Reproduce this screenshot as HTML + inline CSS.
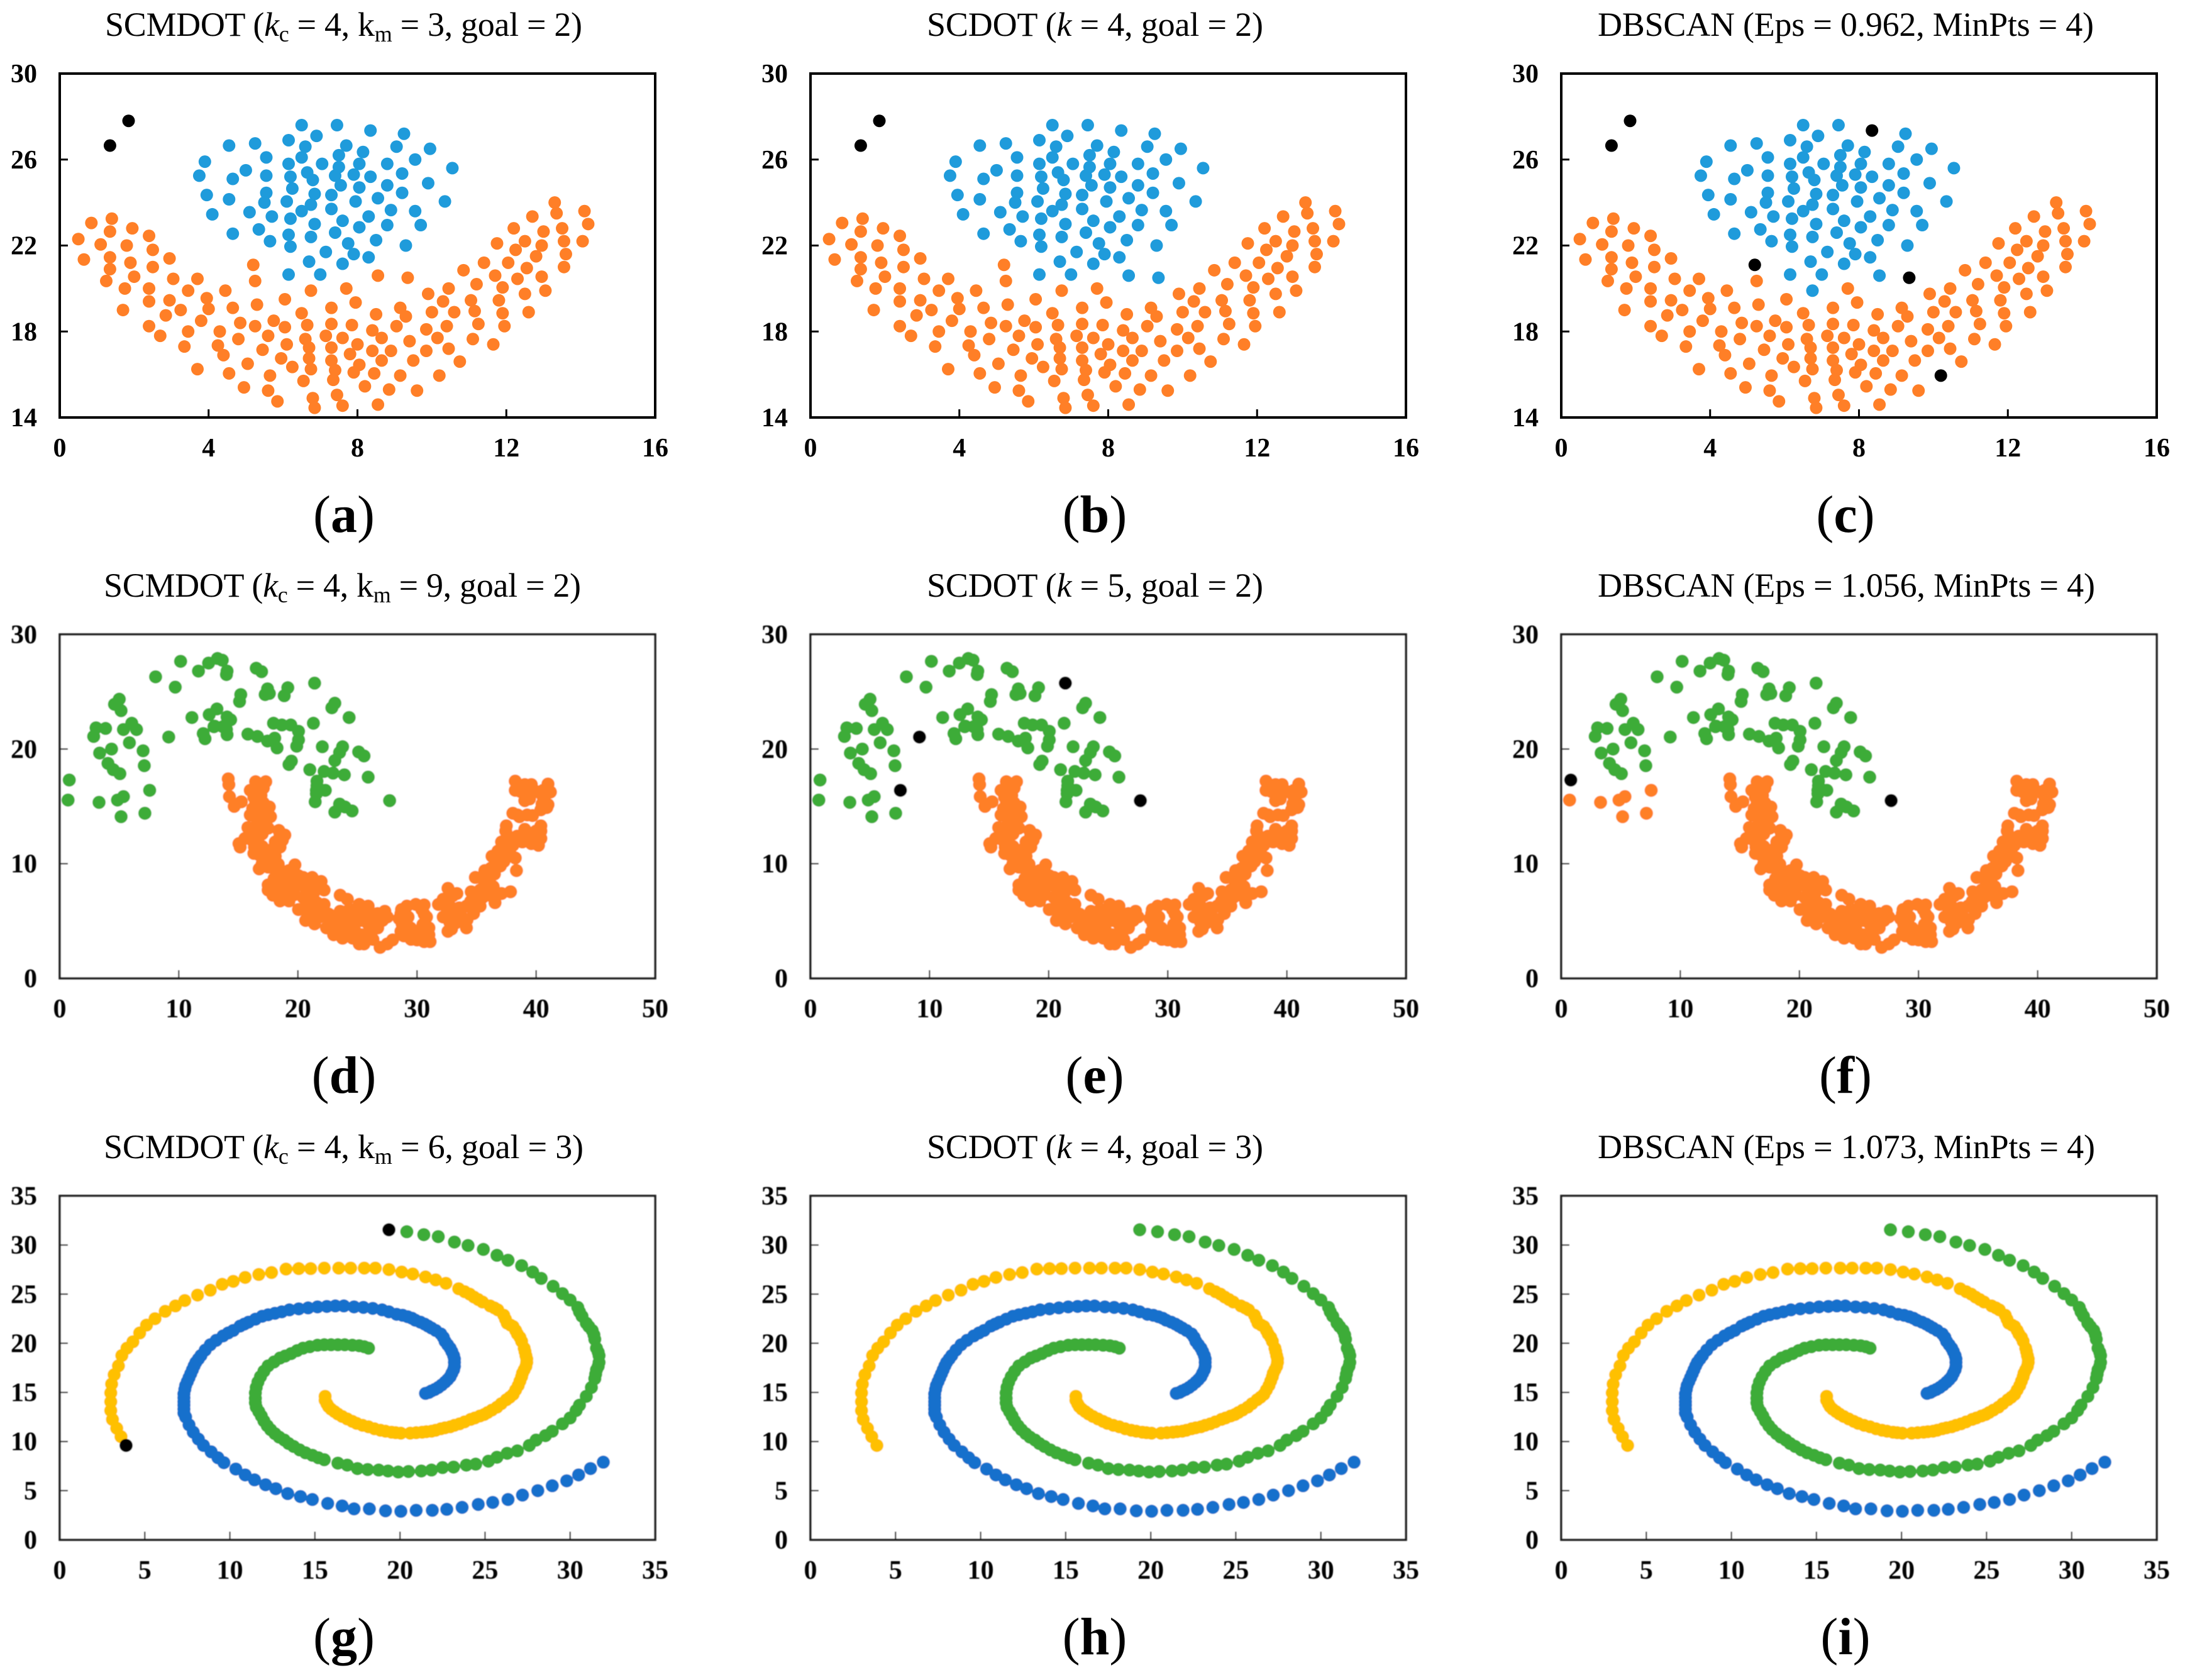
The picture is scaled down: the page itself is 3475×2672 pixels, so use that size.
<!DOCTYPE html>
<html lang="en">
<head>
<meta charset="utf-8">
<title>Clustering comparison: SCMDOT, SCDOT, DBSCAN</title>
<style>
html,body{margin:0;padding:0;background:#fff;}
svg{display:block;}
text{font-family:"Liberation Serif",serif;fill:#000;}
.title{font-size:54px;}
.tick{font-size:42px;font-weight:bold;}
.letter{font-size:84px;}
</style>
</head>
<body>
<svg id="figure" xmlns="http://www.w3.org/2000/svg" width="3475" height="2672" viewBox="0 0 3475 2672">
<defs><filter id="soft" x="-5%" y="-5%" width="110%" height="110%"><feGaussianBlur stdDeviation="0.7"/></filter></defs>
<g>
<text class="title" x="167" y="57" textLength="759">SCMDOT (<tspan font-style="italic">k</tspan><tspan dy="9" font-size="36">c</tspan><tspan dy="-9"> = 4, k</tspan><tspan dy="9" font-size="36">m</tspan><tspan dy="-9"> = 3, goal = 2)</tspan></text>
<text class="title" x="1474" y="57" textLength="535">SCDOT (<tspan font-style="italic">k</tspan> = 4, goal = 2)</text>
<text class="title" x="2541" y="57" textLength="789">DBSCAN (Eps = 0.962, MinPts = 4)</text>
<text class="title" x="165" y="949" textLength="759">SCMDOT (<tspan font-style="italic">k</tspan><tspan dy="9" font-size="36">c</tspan><tspan dy="-9"> = 4, k</tspan><tspan dy="9" font-size="36">m</tspan><tspan dy="-9"> = 9, goal = 2)</tspan></text>
<text class="title" x="1474" y="949" textLength="535">SCDOT (<tspan font-style="italic">k</tspan> = 5, goal = 2)</text>
<text class="title" x="2541" y="949" textLength="791">DBSCAN (Eps = 1.056, MinPts = 4)</text>
<text class="title" x="165" y="1842" textLength="763">SCMDOT (<tspan font-style="italic">k</tspan><tspan dy="9" font-size="36">c</tspan><tspan dy="-9"> = 4, k</tspan><tspan dy="9" font-size="36">m</tspan><tspan dy="-9"> = 6, goal = 3)</tspan></text>
<text class="title" x="1474" y="1842" textLength="535">SCDOT (<tspan font-style="italic">k</tspan> = 4, goal = 3)</text>
<text class="title" x="2541" y="1842" textLength="791">DBSCAN (Eps = 1.073, MinPts = 4)</text>
</g>
<g>
<text class="letter" x="547" y="846" text-anchor="middle">(<tspan font-weight="bold">a</tspan>)</text>
<text class="letter" x="1741" y="846" text-anchor="middle">(<tspan font-weight="bold">b</tspan>)</text>
<text class="letter" x="2935" y="846" text-anchor="middle">(<tspan font-weight="bold">c</tspan>)</text>
<text class="letter" x="547" y="1738" text-anchor="middle">(<tspan font-weight="bold">d</tspan>)</text>
<text class="letter" x="1741" y="1738" text-anchor="middle">(<tspan font-weight="bold">e</tspan>)</text>
<text class="letter" x="2935" y="1738" text-anchor="middle">(<tspan font-weight="bold">f</tspan>)</text>
<text class="letter" x="547" y="2631" text-anchor="middle">(<tspan font-weight="bold">g</tspan>)</text>
<text class="letter" x="1741" y="2631" text-anchor="middle">(<tspan font-weight="bold">h</tspan>)</text>
<text class="letter" x="2935" y="2631" text-anchor="middle">(<tspan font-weight="bold">i</tspan>)</text>
</g>
</svg>
<script>
// ---- Flame data set ----
const flameOutliers=[[1.85,27.8],[1.35,26.65]];
const flameTopEdge=[[8.35,27.35]];
const flameGapA=[[5.2,21.1]];
const flameGapB=[[9.35,20.5]];
const flameGapC=[[8.55,20.6]];
const flameGapD=[[6.75,19.9]];
const flameLow=[[10.2,15.95]];
const flameUpper=[[6.5,27.6],[7.45,27.6],[9.25,27.2],[6.9,27.1],[6.15,26.9],[5.25,26.75],[4.55,26.65],[6.6,26.6],[7.7,26.65],[9.05,26.6],[9.95,26.5],[5.55,26.1],[6.5,26.1],[7.5,26.2],[8.15,26.35],[9.55,26],[3.9,25.9],[6.15,25.8],[7.05,25.8],[8.05,25.8],[8.8,25.8],[5,25.5],[7.5,25.65],[10.55,25.6],[6.65,25.4],[5.55,25.25],[3.75,25.25],[6.2,25.2],[7.4,25.25],[7.9,25.3],[8.35,25.2],[9.2,25.35],[4.65,25.1],[6.8,25.05],[9.9,24.9],[7.55,24.8],[8.8,24.8],[6.25,24.65],[8.05,24.7],[5.55,24.45],[9.2,24.45],[3.95,24.35],[6.85,24.4],[7.3,24.35],[8.55,24.2],[4.55,24.15],[5.5,24],[6.1,24.05],[7.95,24.05],[10.35,24.05],[6.75,23.9],[7.3,23.7],[8.9,23.65],[6.5,23.6],[9.55,23.6],[5.1,23.55],[4.1,23.45],[5.7,23.35],[8.3,23.35],[6.2,23.25],[7.6,23.15],[6.85,23],[8.05,22.85],[8.8,22.95],[9.7,22.95],[5.35,22.75],[4.65,22.55],[6.15,22.5],[7.4,22.6],[6.75,22.4],[8.5,22.25],[5.65,22.2],[7.75,22.1],[6.2,21.95],[9.3,22],[7.15,21.7],[7.9,21.6],[8.3,21.45],[6.7,21.25],[7.6,21.15],[6.15,20.65],[7,20.65]];
const flameLower=[[0.5,22.3],[0.85,23.05],[1.4,23.25],[1.35,22.65],[1.95,22.8],[2.4,22.45],[1.1,22.05],[1.8,22],[2.5,21.8],[0.65,21.35],[1.35,21.45],[1.35,20.9],[1.9,21.2],[2.95,21.4],[2.5,21],[2,20.55],[1.25,20.35],[3.05,20.45],[3.7,20.45],[1.75,20],[2.4,20],[3.45,19.9],[4.45,19.9],[2.4,19.4],[2.95,19.45],[3.95,19.55],[1.7,19],[3.25,19],[4,19.05],[4.65,19.1],[2.85,18.75],[3.8,18.5],[2.4,18.25],[2.7,17.8],[3.45,18],[4.3,18],[3.35,17.3],[4.25,17.35],[4.4,16.9],[4.8,17.65],[4.85,18.4],[5.25,18.25],[5.3,19.25],[5.25,20.35],[3.7,16.25],[4.55,16.05],[5.05,16.5],[4.95,15.4],[5.65,15.95],[5.6,15.25],[5.85,14.75],[5.45,17.15],[5.6,17.8],[5.75,18.5],[6.05,18.2],[6.05,19.5],[6.5,18.85],[6.65,18.3],[6.6,17.65],[6.1,17.4],[5.95,16.75],[6.25,16.35],[6.55,15.7],[6.7,17.25],[6.7,16.75],[6.75,16.25],[6.8,14.9],[6.85,14.45],[7.15,17.8],[7.3,19.1],[7.3,18.35],[7.3,17.25],[7.3,16.65],[7.4,16.2],[7.35,15.75],[7.45,15.05],[7.6,14.55],[7.7,20],[7.95,19.35],[7.85,18.3],[7.6,17.7],[8,17.4],[7.8,16.95],[8.05,16.45],[7.9,16.1],[8.2,15.45],[8.4,18.05],[8.4,17.1],[8.45,16.05],[8.55,14.6],[8.5,18.8],[8.65,17.7],[8.65,16.65],[8.9,17.1],[8.85,15.3],[9.05,18.25],[9.15,15.95],[9.15,19.1],[9.3,18.7],[9.4,17.55],[9.5,16.65],[9.6,15.25],[9.9,19.75],[10,18.9],[9.85,18.1],[9.85,17.1],[10.15,17.7],[10.3,19.4],[10.45,20],[10.4,18.25],[10.45,17.2],[10.6,18.9],[10.75,16.6],[10.85,20.85],[11.05,19.45],[11.15,18.95],[11.2,20.2],[11.25,18.35],[11.1,17.65],[11.4,21.2],[11.7,20.6],[11.8,19.45],[11.9,20.05],[11.9,18.85],[11.95,18.25],[11.65,17.4],[11.75,22.1],[12.05,21.2],[12.2,22.8],[12.25,21.8],[12.3,20.45],[12.5,22.2],[12.55,20.95],[12.5,19.75],[12.6,18.9],[12.7,23.35],[12.8,21.5],[12.95,22],[12.95,20.55],[13,22.65],[13.05,19.9],[13.3,24],[13.35,23.5],[13.5,22.8],[13.55,22.2],[13.6,21.6],[13.55,21],[14.1,23.6],[14.2,23],[14.05,22.2]];

// ---- Two-moons data set ----
const moonLeftEdge=[[0.8,17.3]];
const moonTipEnd=[[27.7,15.5]];
const moonNearTail=[[7.55,16.4]];
const moonGapPoint=[[9.15,21.05]];
const moonTopPoint=[[21.4,25.75]];
const moonTail=[[0.7,15.55],[3.3,15.35],[4.85,15.55],[5.35,15.85],[5.15,14.1],[7.15,14.4]];
const moonUpper=[[7.1,18.55],[7,19.85],[5.85,20.55],[4.35,20],[3.35,19.65],[4.05,18.75],[4.5,18.2],[5.05,17.85],[2.85,21.1],[3.05,21.85],[3.85,21.8],[5.35,21.7],[6.05,22.25],[6.45,21.7],[5.15,23.35],[4.6,23.9],[5,24.35],[8.05,26.3],[9.7,25.4],[10.15,27.65],[11.65,26.8],[12.5,27.5],[13.25,27.9],[13.65,27.75],[14.05,26.8],[14,26.5],[11.1,22.75],[12.55,23],[13.2,23.5],[12.05,21.35],[12.2,20.9],[12.95,21.95],[13.7,21.95],[14.05,22.8],[14.35,22.55],[14.05,21.25],[15.8,21.3],[16.6,21.1],[15.1,24.15],[15.2,24.75],[16.5,27.05],[16.95,26.75],[17.25,24.75],[17.45,25.25],[17.6,24.85],[18.85,24.65],[19.15,25.35],[17.95,22.25],[18.65,22.1],[19.4,22.1],[20.05,21.55],[20.05,20.8],[19.9,20.25],[17.45,20.7],[18.05,20.95],[18.25,20.1],[21.3,22.25],[22.85,23.6],[23.1,24],[24.3,22.75],[22.05,20.2],[23.75,20.2],[23.5,19.7],[23.1,19],[25.1,19.75],[25.55,19.4],[19.45,18.95],[19.25,18.65],[21,18.2],[22.2,18.05],[22.95,17.9],[23.9,17.75],[25.9,17.55],[21.6,17.2],[21.6,16.8],[21.55,16.4],[21.55,16.1],[22.3,16.4],[21.45,15.4],[23.5,15.2],[23.95,14.95],[24.55,14.6],[23.1,14.5],[13,22],[14,21.7]];
const moonLower=[[14.15,17.4],[14.2,16.9],[14.25,15.85],[14.65,15],[15.25,15.4],[16.45,17.15],[17.3,17.15],[16,16.4],[16.6,16.6],[17.1,16.6],[16.9,15.95],[16.45,15.3],[17.1,15.3],[17.6,14.95],[16,14.25],[16.7,14.35],[17.3,14.55],[17.7,14.1],[16.6,13.75],[17.3,13.6],[15.8,13.15],[16.9,13],[16.35,12.5],[17.5,13.1],[15.55,12.2],[15.05,11.75],[15.15,11.45],[16.6,11.9],[18.5,12.5],[18.7,12.05],[18.1,11.9],[18.5,11.45],[16.35,11.45],[16.7,10.8],[17.5,11.1],[18.1,10.65],[17.7,10.2],[16.75,9.55],[17.5,9.7],[18.35,9.95],[19.75,9.9],[19.25,9.4],[18.7,9.1],[17.5,8.15],[17.5,7.7],[17.9,8.3],[18.5,8],[19.25,8.65],[20.05,8.95],[20.45,8.8],[21.2,8.8],[21.95,8.45],[22.2,7.7],[17.9,7.25],[18.5,6.75],[19.25,6.75],[19.05,7.55],[20.05,8.15],[20.65,8.3],[21.6,8],[20.45,7.05],[20.85,6.6],[20.05,6],[20.65,5.05],[20.85,5.85],[21.6,6.6],[22.2,6.45],[22,5.85],[21.8,5.35],[21.4,4.75],[22.4,4.4],[23,3.8],[23.75,3.5],[23.55,7.25],[24.15,6.9],[23.55,5.85],[24.15,5.85],[23.2,5.35],[23.75,5.2],[23.4,4.6],[24.15,4.4],[25.15,6.45],[25.9,6.3],[24.55,5.65],[25.15,5.65],[25.35,5.05],[25.9,4.75],[24.75,4.25],[25.35,3.8],[25.9,3.8],[25.15,3],[25.55,3],[26.7,5.65],[27.3,5.85],[27.5,5.35],[27.1,5.05],[26.7,4.4],[26.1,4.25],[26.9,2.7],[27.5,3],[27.95,3.35],[28.65,5.65],[29.15,6.3],[29.9,6.45],[30.4,6],[29.25,5.35],[28.75,4.75],[28.65,4.1],[29.45,4.4],[29.85,3.8],[30.6,3.2],[30,3.35],[30.8,5.35],[31,4.4],[31,3.8],[31.8,6.45],[32.6,7.85],[32.2,6.9],[33.35,7.4],[32.75,6.3],[33.55,6.15],[32.2,5.35],[32.75,4.9],[32.6,4.1],[34.15,4.4],[33.75,5.35],[34.15,6.3],[34.75,5.65],[35.3,6.3],[34.55,7.55],[35.3,7.7],[36.1,8.15],[34.9,8.8],[35.7,9.4],[36.5,9.1],[35.5,7.05],[36.1,7.25],[36.55,6.6],[37.1,7.4],[37.85,7.55],[37.3,10.2],[38.25,10.5],[38.35,9.4],[36.9,10.65],[36.3,10.65],[37.1,11.9],[37.45,12.85],[37.1,11.3],[37.65,12.2],[38.05,11.6],[38.85,11.9],[39.6,11.75],[40.4,12.2],[40.4,12.85],[39.05,13],[40,12.85],[39.25,14.25],[38.05,14.4],[38.45,14.25],[40.4,14.7],[41,15.15],[40.6,15.8],[41.2,16.25],[41,16.95],[38.25,17.2],[38.25,16.4],[39.05,16.9],[39.6,16.9],[39.8,16.4],[39.05,15.5],[39.45,15.65],[40.2,16.25],
[16.3,15.8],[16.7,15],[16.2,14.8],[17,14],[16.5,13.2],[17,12.6],[16.2,12],[17,11.5],[17.3,10.5],[17,10],[18,9.6],[18.3,8.9],[18,8.7],[18.9,8.5],[19.6,8.2],[19.3,7.9],[18.2,7.6],[18.8,7],[19.7,7.3],[20.7,7.8],[21.3,7.4],[21,5.4],[21.2,6.2],[22.6,5.6],[22.7,5],[23.1,4.4],[23.5,3.9],[24.2,5.2],[24.5,4.7],[24.3,3.9],[24.6,3.5],[24.8,6],[25.6,6.1],[25.7,5.3],[26.3,5.5],[26.4,5],[26.3,3.4],[25.6,3.3],[28.5,5.2],[28.7,6],[28.9,3.7],[29.1,4.6],[29.5,3.4],[30.3,4.2],[30.5,4.7],[30.6,5.6],[31.1,3.2],[30.6,6.4],[32.4,6.3],[33,7.2],[33.1,5.7],[33.2,4.8],[32.9,4.3],[34.2,5.1],[34.5,6.7],[35,7.2],[35.7,8.2],[35.5,8.7],[36.1,8.8],[36.4,8],[36.2,9.6],[36.6,10.1],[37,9.8],[36.8,11.1],[37.4,11.4],[37.8,10.9],[37.5,13.3],[37.6,11.6],[38.4,12.4],[39,12.3],[39.3,12.6],[39.8,12.3],[40.2,11.6],[40.4,13.3],[38.6,14.1],[39.7,14.2],[40.9,14.9],[40.5,15.2],[39.1,16.3],[40.6,16.4],[38.7,16.3],[17.9,11.3],[16.3,10.9],[18.9,12.5],[18.4,12.9]];

// ---- Spiral data set ----
const spiralEndYellow=[[3.9,9.6]];
const spiralEndGreen=[[19.35,31.55]];
const spiralBlue=[[31.95,7.9],[31.2,7.25],[30.5,6.6],[29.8,6],[28.95,5.5],[28.1,5],[27.2,4.55],[26.35,4.1],[25.45,3.8],[24.6,3.6],[23.65,3.3],[22.75,3.1],[21.9,3],[20.95,3],[20.05,2.9],[19.15,2.95],[18.2,3.15],[17.3,3.15],[16.6,3.45],[15.75,3.7],[14.85,4.1],[14.15,4.4],[13.4,4.7],[12.7,5.2],[12.1,5.6],[11.45,6.1],[10.9,6.6],[10.35,7.2],[9.65,7.85],[9.3,8.35],[8.9,8.95],[8.45,9.6],[8.15,10.25],[7.85,10.95],[7.6,11.7],[7.4,12.5],[7.3,13.3],[7.3,14.05],[7.3,14.85],[7.4,15.7],[7.6,16.5],[7.8,17.3],[8,18.05],[8.3,18.75],[8.85,19.85],[9.6,20.75],[10.2,21.3],[10.6,21.75],[11.1,22.15],[11.9,22.75],[12.65,23.05],[13.5,23.4],[14.05,23.5],[14.6,23.6],[15.15,23.7],[15.7,23.75],[16.2,23.8],[16.7,23.8],[17.3,23.7],[17.85,23.65],[18.4,23.55],[18.95,23.4],[19.8,22.95],[20.45,22.7],[20.9,22.35],[21.45,21.95],[21.85,21.55],[22.4,20.95],[22.65,20.2],[22.95,19.5],[23.15,18.75],[23.2,18.05],[23.15,17.3],[22.95,16.6],[22.65,16.05],[22.25,15.5],[21.85,15.15],[21.5,14.9],
[7.3,12.9],[7.3,13.7],[7.3,14.45],[7.35,15.3],[7.5,16.1],[7.7,16.9],[7.9,17.7],[8.15,18.4],[8.55,19.3],[9.2,20.3],[9.9,21.05],[10.85,21.95],[11.5,22.45],[12.25,22.9],[13.05,23.2],[19.35,23.2],[20.15,22.85],[20.7,22.55],[21.2,22.15],[21.65,21.75],[22.1,21.3],[22.55,20.6],[22.8,19.85],[23.05,19.15],[23.2,18.4],[23.2,17.65],[23.05,16.95],[22.8,16.3],[22.45,15.75],[22.05,15.3],[21.7,15]];
const spiralYellow=[[3.6,10.5],[3.35,11.35],[3.1,12.25],[3,13.15],[3,14.05],[3,14.95],[3.05,15.85],[3.2,16.8],[3.45,17.7],[3.65,18.75],[3.95,19.5],[4.3,20.15],[4.7,21.05],[5.1,21.85],[5.6,22.5],[6.2,23.25],[6.8,23.8],[7.35,24.35],[8.1,24.9],[8.85,25.4],[9.55,26],[10.2,26.3],[10.9,26.7],[11.7,27],[12.45,27.2],[13.3,27.55],[14.05,27.6],[14.75,27.6],[15.55,27.65],[16.4,27.65],[17.1,27.65],[17.9,27.65],[18.55,27.65],[19.35,27.5],[20.1,27.25],[20.75,27.05],[21.5,26.75],[22.1,26.45],[22.7,26.1],[23.45,25.55],[23.8,25.25],[24.35,24.7],[24.85,24.2],[25.3,23.8],[25.75,23.4],[26.1,22.85],[26.3,22.05],[26.65,21.7],[26.9,20.95],[27.15,20.2],[27.3,19.5],[27.4,18.75],[27.45,18.05],[27.3,17.3],[27.15,16.6],[26.95,15.7],[26.65,14.8],[26.25,14.25],[25.7,13.5],[25.15,12.95],[24.7,12.6],[24.15,12.25],[23.5,11.8],[22.95,11.5],[22.4,11.3],[21.85,11.05],[21.3,10.95],[20.6,10.85],[20.05,10.85],[19.5,10.95],[18.85,11.15],[18.15,11.5],[17.45,11.85],[16.9,12.3],[16.35,12.8],[15.95,13.3],[15.7,13.85],[15.6,14.6],
[27.35,19.15],[27.45,18.4],[27.4,17.65],[27.2,16.95],[27.05,16.15],[26.8,15.25],[26.45,14.5],[25.95,13.85],[25.4,13.2],[24.95,12.75],[24.4,12.4],[23.8,12],[23.2,11.65],[22.65,11.4],[22.1,11.15],[21.55,11],[20.95,10.9],[19.75,10.9],[19.15,11.05],[18.5,11.3],[17.8,11.65],[17.2,12.05],[16.6,12.55],[16.15,13.05],[15.8,13.55],[15.6,14.2],[26.2,22.45],[26.5,21.85],[26.8,21.3],[27.05,20.6],[25.55,23.6],[24.6,24.45],[24.1,25]];
const spiralGreen=[[20.4,31.35],[21.4,31.05],[22.25,30.85],[23.2,30.3],[24,29.95],[24.9,29.55],[25.7,28.95],[26.35,28.45],[27.15,27.9],[27.8,27.25],[28.3,26.6],[29,25.8],[29.55,25.05],[30,24.4],[30.45,23.65],[30.7,22.75],[30.95,22.05],[31.3,21.3],[31.45,20.4],[31.55,19.5],[31.7,18.75],[31.7,18.05],[31.55,17.3],[31.45,16.4],[31.25,15.5],[30.95,14.6],[30.55,13.7],[30.35,13.15],[30,12.4],[29.55,11.8],[28.95,11.05],[28.55,10.6],[28,10.15],[27.6,9.6],[26.9,9.05],[26.3,8.8],[25.7,8.4],[25.2,8],[24.45,7.7],[23.9,7.6],[23.15,7.4],[22.5,7.35],[21.85,7.1],[21.25,7],[20.5,6.95],[19.9,6.9],[19.3,7],[18.75,7.1],[18.1,7.15],[17.5,7.25],[16.9,7.6],[16.35,7.8],[15.55,8.15],[14.85,8.6],[14.45,8.85],[13.75,9.5],[13.2,10.15],[12.65,10.8],[12.2,11.6],[11.85,12.6],[11.55,13.5],[11.5,14.4],[11.55,15.5],[11.8,16.6],[12.25,17.7],[12.95,18.5],[13.6,18.95],[14.3,19.5],[15.15,19.8],[15.95,19.85],[16.75,19.85],[17.6,19.75],[18.15,19.5],
[15.2,8.35],[14.1,9.15],[13.45,9.8],[12.9,10.45],[12.4,11.2],[12,12.1],[11.7,13.05],[11.5,13.95],[11.5,14.95],[11.65,16.05],[12,17.15],[12.6,18.1],[13.25,18.7],[13.95,19.25],[14.7,19.65],[15.55,19.85],[16.35,19.85],[17.2,19.8],[17.9,19.65],[31.1,21.7],[30.55,23.2],[31.4,20.85],[31.65,19.1],[31.65,17.65],[31.5,16.85]];

// ---- Axis tick labels ----
const flameXTicks=[0,4,8,12,16];
const flameYTicks=[14,18,22,26,30];
const moonXTicks=[0,10,20,30,40,50];
const moonYTicks=[0,10,20,30];
const spiralTicks=[0,5,10,15,20,25,30,35];

// ---- Palette ----
const skyBlue='#1f9bdb';
const orange='#ff7f27';
const green='#3dac38';
const royalBlue='#1270cc';
const amber='#ffc000';
const black='#000000';

const COL_X=[95,1289,2483];
const ROW_TOP=[117,1009,1902];
const PW=947,PH=547;
const svg=document.getElementById('figure');
const NS='http://www.w3.org/2000/svg';

const panels=[
 {id:'a',col:0,row:0,xt:flameXTicks,yt:flameYTicks,series:[
  [skyBlue,'cluster-blue',flameUpper.concat(flameTopEdge)],
  [orange,'cluster-orange',flameLower.concat(flameGapA,flameGapB,flameGapC,flameGapD,flameLow)],
  [black,'noise',flameOutliers]]},
 {id:'b',col:1,row:0,xt:flameXTicks,yt:flameYTicks,series:[
  [skyBlue,'cluster-blue',flameUpper.concat(flameTopEdge,flameGapB,flameGapC)],
  [orange,'cluster-orange',flameLower.concat(flameGapA,flameGapD,flameLow)],
  [black,'noise',flameOutliers]]},
 {id:'c',col:2,row:0,xt:flameXTicks,yt:flameYTicks,series:[
  [skyBlue,'cluster-blue',flameUpper.concat(flameGapC,flameGapD)],
  [orange,'cluster-orange',flameLower],
  [black,'noise',flameOutliers.concat(flameTopEdge,flameGapA,flameGapB,flameLow)]]},
 {id:'d',col:0,row:1,xt:moonXTicks,yt:moonYTicks,series:[
  [green,'cluster-green',moonUpper.concat(moonLeftEdge,moonTipEnd,moonNearTail,moonGapPoint,moonTopPoint,moonTail)],
  [orange,'cluster-orange',moonLower]]},
 {id:'e',col:1,row:1,xt:moonXTicks,yt:moonYTicks,series:[
  [green,'cluster-green',moonUpper.concat(moonLeftEdge,moonTail)],
  [orange,'cluster-orange',moonLower],
  [black,'noise',moonTipEnd.concat(moonNearTail,moonGapPoint,moonTopPoint)]]},
 {id:'f',col:2,row:1,xt:moonXTicks,yt:moonYTicks,series:[
  [green,'cluster-green',moonUpper.concat(moonGapPoint,moonTopPoint)],
  [orange,'cluster-orange',moonLower.concat(moonTail,moonNearTail)],
  [black,'noise',moonLeftEdge.concat(moonTipEnd)]]},
 {id:'g',col:0,row:2,xt:spiralTicks,yt:spiralTicks,series:[
  [royalBlue,'cluster-blue',spiralBlue],
  [amber,'cluster-yellow',spiralYellow],
  [green,'cluster-green',spiralGreen],
  [black,'noise',spiralEndYellow.concat(spiralEndGreen)]]},
 {id:'h',col:1,row:2,xt:spiralTicks,yt:spiralTicks,series:[
  [royalBlue,'cluster-blue',spiralBlue],
  [amber,'cluster-yellow',spiralYellow.concat(spiralEndYellow)],
  [green,'cluster-green',spiralGreen.concat(spiralEndGreen)]]},
 {id:'i',col:2,row:2,xt:spiralTicks,yt:spiralTicks,series:[
  [royalBlue,'cluster-blue',spiralBlue],
  [amber,'cluster-yellow',spiralYellow.concat(spiralEndYellow)],
  [green,'cluster-green',spiralGreen.concat(spiralEndGreen)]]}
];

function svgEl(tag,attrs,parent){
  const n=document.createElementNS(NS,tag);
  for(const k in attrs){n.setAttribute(k,attrs[k]);}
  parent.appendChild(n);
  return n;
}

function drawPanel(p){
  const L=COL_X[p.col],T=ROW_TOP[p.row],B=T+PH;
  const xMin=p.xt[0],xMax=p.xt[p.xt.length-1];
  const yMin=p.yt[0],yMax=p.yt[p.yt.length-1];
  const sx=v=>L+(v-xMin)/(xMax-xMin)*PW;
  const sy=v=>B-(v-yMin)/(yMax-yMin)*PH;
  const soft=p.row>0;
  const frameColor=soft?'#1c1c1c':'#000';
  const frameW=soft?3.5:4;
  const tickW=soft?2.2:3;
  const dotR=soft?10.5:10;

  const g=svgEl('g',soft?{filter:'url(#soft)'}:{},svg);
  
  

  const frame=svgEl('rect',{x:L,y:T,width:PW,height:PH,fill:'#fff',stroke:frameColor,'stroke-width':frameW},g);
  
  

  p.xt.forEach(function(v){
    const x=sx(v);
    if(v!==xMin&&v!==xMax){
      const t=svgEl('line',{x1:x,x2:x,y1:B,y2:B-13,stroke:frameColor,'stroke-width':tickW},g);
      
      
    }
    const lab=svgEl('text',{class:'tick',x:x,y:B+62,'text-anchor':'middle'},g);
    
    
    lab.textContent=v;
  });
  p.yt.forEach(function(v){
    const y=sy(v);
    if(v!==yMin&&v!==yMax){
      const t=svgEl('line',{x1:L,x2:L+13,y1:y,y2:y,stroke:frameColor,'stroke-width':tickW},g);
      
      
    }
    const lab=svgEl('text',{class:'tick',x:L-36,y:y+14,'text-anchor':'end'},g);
    
    
    lab.textContent=v;
  });

  p.series.forEach(function(s){
    const sg=svgEl('g',{fill:s[0]},g);
    
    
    s[2].forEach(function(pt){
      const c=svgEl('circle',{cx:sx(pt[0]),cy:sy(pt[1]),r:dotR},sg);
      
      
    });
  });
}
panels.forEach(drawPanel);
</script>
</body>
</html>
